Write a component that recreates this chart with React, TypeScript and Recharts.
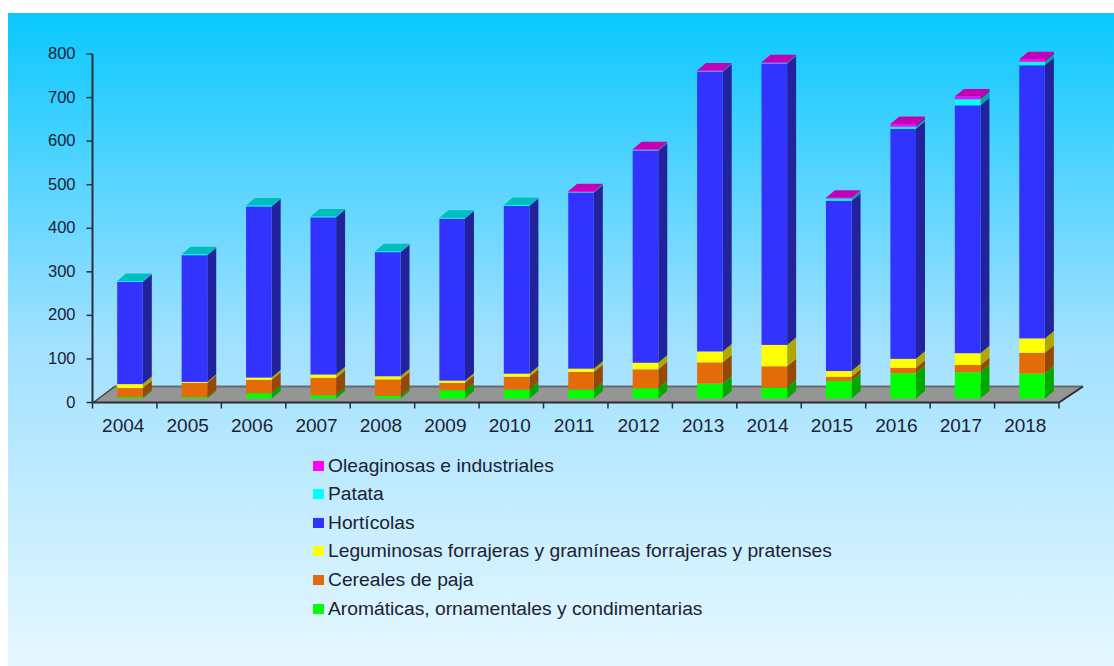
import { BarChart, Bar, XAxis, YAxis, Legend, usePlotArea } from 'recharts';

const years = ['2004', '2005', '2006', '2007', '2008', '2009', '2010', '2011', '2012', '2013', '2014', '2015', '2016', '2017', '2018'];
const aromaticas = [3, 3, 12, 7.5, 6, 19, 20.5, 20.5, 23.5, 34, 25, 40, 58, 60, 57];
const cereales = [21, 33, 31, 40, 38, 17, 29.5, 40.5, 43.5, 49, 49, 10, 12.5, 17, 48];
const leguminosas = [9, 2, 5, 7.5, 7, 5, 7, 7.5, 15, 25, 49, 13, 20.5, 27, 33];
const horticolas = [235, 291, 393, 361, 285, 372, 385, 404.5, 487, 642, 646, 391, 528, 569, 627];
const patata = [2, 2, 2, 2, 2, 2, 2, 1, 1, 1, 1, 5, 5, 14, 8];
const oleaginosas = [0, 0, 0, 0, 0, 0, 0, 2, 2, 2, 2, 2, 6, 6, 6];

const yTicks = [0, 100, 200, 300, 400, 500, 600, 700, 800];

// bottom to top, same order as the stack
const series = [
  { key: 'aromaticas', name: 'Aromáticas, ornamentales y condimentarias', color: '#00ff00', side: '#00a800', top: '#00c000' },
  { key: 'cereales', name: 'Cereales de paja', color: '#e36c09', side: '#964806', top: '#b85a08' },
  { key: 'leguminosas', name: 'Leguminosas forrajeras y gramíneas forrajeras y pratenses', color: '#ffff00', side: '#b0a800', top: '#d0d000' },
  { key: 'horticolas', name: 'Hortícolas', color: '#3333ff', side: '#22229c', top: '#2828c0' },
  { key: 'patata', name: 'Patata', color: '#00ffff', side: '#00a8a0', top: '#00bdbd' },
  { key: 'oleaginosas', name: 'Oleaginosas e industriales', color: '#ff00ff', side: '#a800a0', top: '#c400b4' },
];

const data = years.map((year, i) => ({
  year,
  aromaticas: aromaticas[i],
  cereales: cereales[i],
  leguminosas: leguminosas[i],
  horticolas: horticolas[i],
  patata: patata[i],
  oleaginosas: oleaginosas[i],
}));

const FONT = '"Liberation Sans", Arial, sans-serif';
const TEXT = '#1c2233';
const AXIS = '#2a2f38';

const W = 1106;
const H = 653;
const BAND = 966.5 / years.length;

// 3D look of the bars
const DX = 9;
const DY = 7.5;
const SHIFT_X = 5.7;
const SHIFT_Y = -4;

function Bar3D(props: any) {
  const { x, y, width, height, payload, dataKey } = props;
  if (!height || height <= 0) return null;
  const idx = series.findIndex(s => s.key === dataKey);
  const s = series[idx];
  const isTop = series.slice(idx + 1).every(o => !payload[o.key]);
  const l = x + SHIFT_X;
  const r = l + width;
  const t = y + SHIFT_Y;
  const b = t + height;
  return (
    <g>
      <polygon points={`${r},${t} ${r + DX},${t - DY} ${r + DX},${b - DY} ${r},${b}`} fill={s.side} />
      <rect x={l} y={t} width={width} height={height} fill={s.color} />
      {isTop && (
        <polygon points={`${l},${t} ${l + DX},${t - DY} ${r + DX},${t - DY} ${r},${t}`} fill={s.top} />
      )}
    </g>
  );
}

function Floor() {
  const plot = usePlotArea();
  if (!plot) return null;
  const left = plot.x;
  const right = plot.x + plot.width;
  const bottom = plot.y + plot.height;
  const back = bottom - 16;
  return (
    <g>
      <polygon points={`${left + 1},${bottom} ${left + 22},${back} ${right + 24},${back} ${right},${bottom}`} fill="#959595" />
      <line x1={left + 22} y1={back} x2={right + 24} y2={back} stroke="#666a6e" strokeWidth={2} />
      <line x1={left + 1} y1={bottom} x2={left + 22} y2={back} stroke="#3a3f45" strokeWidth={1.5} />
      <line x1={right} y1={bottom} x2={right + 24} y2={back} stroke="#2a2f38" strokeWidth={2} />
    </g>
  );
}

function YearTick(props: any) {
  const { x, y, payload, index } = props;
  const left = x - BAND / 2;
  return (
    <g>
      <line x1={left} y1={y - 8} x2={left} y2={y - 2} stroke={AXIS} strokeWidth={1.5} />
      {index === years.length - 1 && (
        <line x1={left + BAND} y1={y - 8} x2={left + BAND} y2={y - 2} stroke={AXIS} strokeWidth={1.5} />
      )}
      <text x={x - 1.5} y={y + 21} textAnchor="middle" fontFamily={FONT} fontSize={19} fill={TEXT}>
        {payload.value}
      </text>
    </g>
  );
}

function ValueTick(props: any) {
  const { x, y, payload } = props;
  return (
    <text x={x} y={y + 5} textAnchor="end" fontFamily={FONT} fontSize={16.5} fill={TEXT}>
      {payload.value}
    </text>
  );
}

function LegendList() {
  return (
    <div style={{ fontFamily: FONT, fontSize: 19.25, color: TEXT }}>
      {[...series].reverse().map(s => (
        <div key={s.key} style={{ display: 'flex', alignItems: 'center', height: 28.6, whiteSpace: 'nowrap' }}>
          <span style={{ width: 11, height: 10, background: s.color, marginRight: 4, display: 'inline-block' }} />
          {s.name}
        </div>
      ))}
    </div>
  );
}

export default function App() {
  return (
    <div
      style={{
        position: 'absolute',
        left: 8,
        top: 13,
        width: W,
        height: H,
        background: 'linear-gradient(180deg, #0ac8ff 0%, #a0e0ff 50%, #e6f8ff 100%)',
      }}
    >
      <BarChart
        width={W}
        height={H}
        data={data}
        barSize={25.6}
        margin={{ top: 41, right: 55, bottom: 233.5, left: 0 }}
      >
        <Floor />
        <XAxis
          dataKey="year"
          height={30}
          axisLine={{ stroke: AXIS, strokeWidth: 2 }}
          tickLine={false}
          tick={<YearTick />}
          interval={0}
        />
        <YAxis
          width={84.5}
          domain={[0, 800]}
          ticks={yTicks}
          interval={0}
          axisLine={{ stroke: AXIS, strokeWidth: 2 }}
          tickLine={{ stroke: AXIS, strokeWidth: 1.5 }}
          tickSize={6}
          tickMargin={11}
          tick={<ValueTick />}
        />
        {series.map(s => (
          <Bar key={s.key} dataKey={s.key} name={s.name} stackId="a" fill={s.color} shape={<Bar3D />} isAnimationActive={false} />
        ))}
        <Legend
          layout="vertical"
          align="center"
          verticalAlign="middle"
          content={<LegendList />}
          wrapperStyle={{ left: 305, top: 438.4, width: 600 }}
        />
      </BarChart>
    </div>
  );
}
